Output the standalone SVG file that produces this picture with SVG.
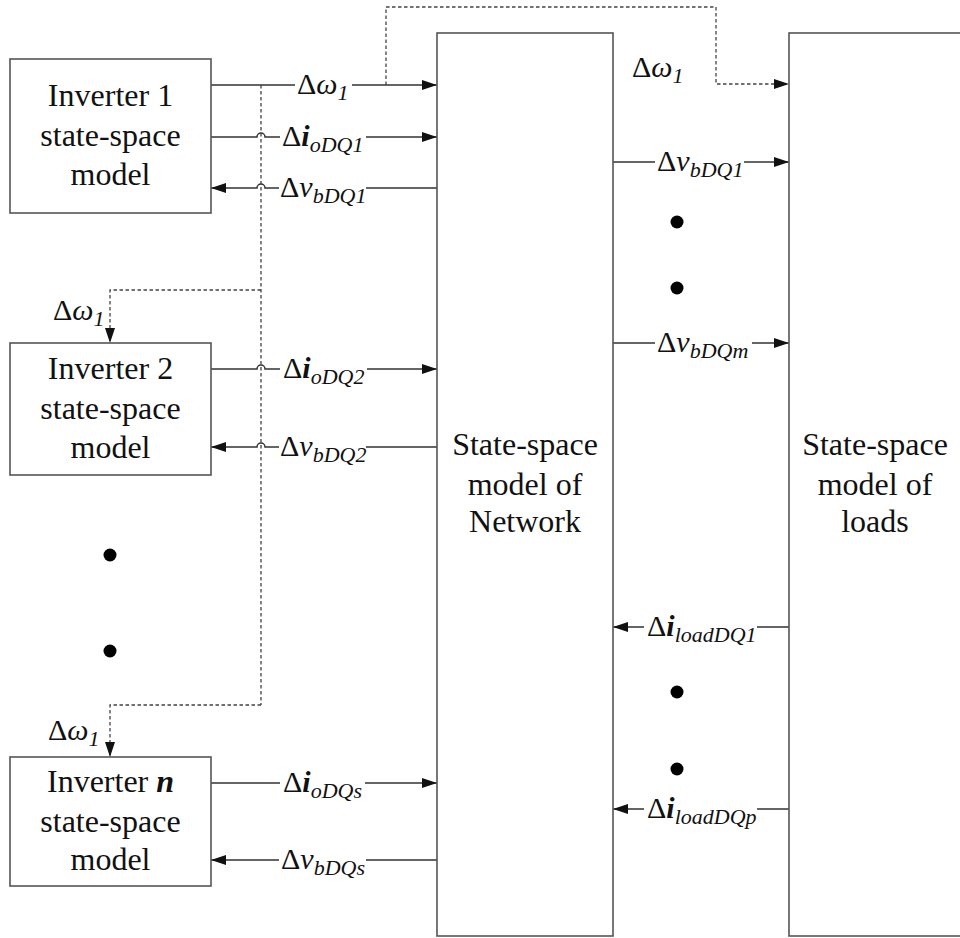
<svg xmlns="http://www.w3.org/2000/svg" width="960" height="938" viewBox="0 0 960 938">
<defs>
<marker id="arr" markerUnits="userSpaceOnUse" markerWidth="16" markerHeight="12" refX="15" refY="5" orient="auto">
<path d="M0,0 L15,5 L0,10 z" fill="#111"/>
</marker>
</defs>
<rect width="960" height="938" fill="#fff"/>

<g id="connectors">
<g fill="none" stroke="#333" stroke-width="1.5" marker-end="url(#arr)">
<path d="M211,85 L295,85 M352,85 L437,85"/>
<path d="M211,137 L257,137 A4,4 0 0 1 265,137 L280,137 M366,137 L437,137"/>
<path d="M437,188 L366,188 M279,188 L265,188 A4,4 0 0 0 257,188 L211,188"/>
<path d="M211,369 L257,369 A4,4 0 0 1 265,369 L280,369 M367,369 L437,369"/>
<path d="M437,447 L366,447 M279,447 L265,447 A4,4 0 0 0 257,447 L211,447"/>
<path d="M211,783 L280,783 M365,783 L437,783"/>
<path d="M437,860 L366,860 M279,860 L211,860"/>
<path d="M613,162 L655,162 M744,162 L789,162"/>
<path d="M613,343 L655,343 M752,343 L789,343"/>
<path d="M789,627 L757,627 M644,627 L613,627"/>
<path d="M789,809 L757,809 M644,809 L613,809"/>
</g>
<g fill="none" stroke="#444" stroke-width="1.3" stroke-dasharray="3.5 2.5">
<path d="M261,85 L261,705"/>
<path d="M261,290 L110,290 L110,343" marker-end="url(#arr)"/>
<path d="M261,705 L110,705 L110,757" marker-end="url(#arr)"/>
<path d="M386,85 L386,7 L716,7 L716,84 L789,84" marker-end="url(#arr)"/>
</g>
</g>

<g id="inverter1">
<rect x="10" y="59" width="201" height="154" fill="#fff" stroke="#555" stroke-width="1.6"/>
<text x="110.5" y="106" text-anchor="middle" fill="#111" font-family="Liberation Serif" font-size="32" style="font-family:'Liberation Serif',serif !important">Inverter 1</text>
<text x="110.5" y="146" text-anchor="middle" fill="#111" font-family="Liberation Serif" font-size="32" style="font-family:'Liberation Serif',serif !important">state-space</text>
<text x="110.5" y="185" text-anchor="middle" fill="#111" font-family="Liberation Serif" font-size="32" style="font-family:'Liberation Serif',serif !important">model</text>
</g>
<g id="inverter2">
<rect x="10" y="343" width="201" height="132" fill="#fff" stroke="#555" stroke-width="1.6"/>
<text x="110.5" y="379" text-anchor="middle" fill="#111" font-family="Liberation Serif" font-size="32" style="font-family:'Liberation Serif',serif !important">Inverter 2</text>
<text x="110.5" y="419" text-anchor="middle" fill="#111" font-family="Liberation Serif" font-size="32" style="font-family:'Liberation Serif',serif !important">state-space</text>
<text x="110.5" y="458" text-anchor="middle" fill="#111" font-family="Liberation Serif" font-size="32" style="font-family:'Liberation Serif',serif !important">model</text>
</g>
<g id="invertern">
<rect x="10" y="757" width="201" height="129" fill="#fff" stroke="#555" stroke-width="1.6"/>
<text x="110.5" y="792" text-anchor="middle" fill="#111" font-family="Liberation Serif" font-size="32" style="font-family:'Liberation Serif',serif !important">Inverter <tspan font-style="italic" font-weight="bold">n</tspan></text>
<text x="110.5" y="832" text-anchor="middle" fill="#111" font-family="Liberation Serif" font-size="32" style="font-family:'Liberation Serif',serif !important">state-space</text>
<text x="110.5" y="870" text-anchor="middle" fill="#111" font-family="Liberation Serif" font-size="32" style="font-family:'Liberation Serif',serif !important">model</text>
</g>
<g id="network">
<rect x="437" y="33" width="176" height="903" fill="#fff" stroke="#555" stroke-width="1.6"/>
<text x="525" y="455" text-anchor="middle" fill="#111" font-family="Liberation Serif" font-size="32" style="font-family:'Liberation Serif',serif !important">State-space</text>
<text x="525" y="495" text-anchor="middle" fill="#111" font-family="Liberation Serif" font-size="32" style="font-family:'Liberation Serif',serif !important">model of</text>
<text x="525" y="532" text-anchor="middle" fill="#111" font-family="Liberation Serif" font-size="32" style="font-family:'Liberation Serif',serif !important">Network</text>
</g>
<g id="loads">
<rect x="789" y="33" width="174" height="903" fill="#fff" stroke="#555" stroke-width="1.6"/>
<text x="875" y="455" text-anchor="middle" fill="#111" font-family="Liberation Serif" font-size="32" style="font-family:'Liberation Serif',serif !important">State-space</text>
<text x="875" y="495" text-anchor="middle" fill="#111" font-family="Liberation Serif" font-size="32" style="font-family:'Liberation Serif',serif !important">model of</text>
<text x="875" y="532" text-anchor="middle" fill="#111" font-family="Liberation Serif" font-size="32" style="font-family:'Liberation Serif',serif !important">loads</text>
</g>

<g id="labels" fill="#111">
<text x="297" y="94" font-family="Liberation Serif" font-size="30" style="font-family:'Liberation Serif',serif !important">Δ<tspan font-style="italic">ω</tspan><tspan dy="6" font-style="italic" font-size="22">1</tspan></text>
<text x="282" y="146" font-family="Liberation Serif" font-size="30" style="font-family:'Liberation Serif',serif !important">Δ<tspan font-style="italic" font-weight="bold">i</tspan><tspan dy="6" font-style="italic" font-size="22">oDQ1</tspan></text>
<text x="280" y="197" font-family="Liberation Serif" font-size="30" style="font-family:'Liberation Serif',serif !important">Δ<tspan font-style="italic">v</tspan><tspan dy="6" font-style="italic" font-size="22">bDQ1</tspan></text>
<text x="53" y="320" font-family="Liberation Serif" font-size="30" style="font-family:'Liberation Serif',serif !important">Δ<tspan font-style="italic">ω</tspan><tspan dy="6" font-style="italic" font-size="22">1</tspan></text>
<text x="283" y="378" font-family="Liberation Serif" font-size="30" style="font-family:'Liberation Serif',serif !important">Δ<tspan font-style="italic" font-weight="bold">i</tspan><tspan dy="6" font-style="italic" font-size="22">oDQ2</tspan></text>
<text x="280" y="456" font-family="Liberation Serif" font-size="30" style="font-family:'Liberation Serif',serif !important">Δ<tspan font-style="italic">v</tspan><tspan dy="6" font-style="italic" font-size="22">bDQ2</tspan></text>
<text x="48" y="740" font-family="Liberation Serif" font-size="30" style="font-family:'Liberation Serif',serif !important">Δ<tspan font-style="italic">ω</tspan><tspan dy="6" font-style="italic" font-size="22">1</tspan></text>
<text x="283" y="792" font-family="Liberation Serif" font-size="30" style="font-family:'Liberation Serif',serif !important">Δ<tspan font-style="italic" font-weight="bold">i</tspan><tspan dy="6" font-style="italic" font-size="22">oDQs</tspan></text>
<text x="281" y="869" font-family="Liberation Serif" font-size="30" style="font-family:'Liberation Serif',serif !important">Δ<tspan font-style="italic">v</tspan><tspan dy="6" font-style="italic" font-size="22">bDQs</tspan></text>
<text x="632" y="77" font-family="Liberation Serif" font-size="30" style="font-family:'Liberation Serif',serif !important">Δ<tspan font-style="italic">ω</tspan><tspan dy="6" font-style="italic" font-size="22">1</tspan></text>
<text x="657" y="171" font-family="Liberation Serif" font-size="30" style="font-family:'Liberation Serif',serif !important">Δ<tspan font-style="italic">v</tspan><tspan dy="6" font-style="italic" font-size="22">bDQ1</tspan></text>
<text x="657" y="352" font-family="Liberation Serif" font-size="30" style="font-family:'Liberation Serif',serif !important">Δ<tspan font-style="italic">v</tspan><tspan dy="6" font-style="italic" font-size="22">bDQm</tspan></text>
<text x="647" y="636" font-family="Liberation Serif" font-size="30" style="font-family:'Liberation Serif',serif !important">Δ<tspan font-style="italic" font-weight="bold">i</tspan><tspan dy="6" font-style="italic" font-size="22">loadDQ1</tspan></text>
<text x="647" y="818" font-family="Liberation Serif" font-size="30" style="font-family:'Liberation Serif',serif !important">Δ<tspan font-style="italic" font-weight="bold">i</tspan><tspan dy="6" font-style="italic" font-size="22">loadDQp</tspan></text>
</g>

<g id="dots" fill="#000">
<circle cx="110" cy="555" r="6.5"/>
<circle cx="110" cy="651" r="6.5"/>
<circle cx="677" cy="222" r="6.5"/>
<circle cx="677" cy="288" r="6.5"/>
<circle cx="677" cy="692" r="6.5"/>
<circle cx="677" cy="769" r="6.5"/>
</g>
</svg>
